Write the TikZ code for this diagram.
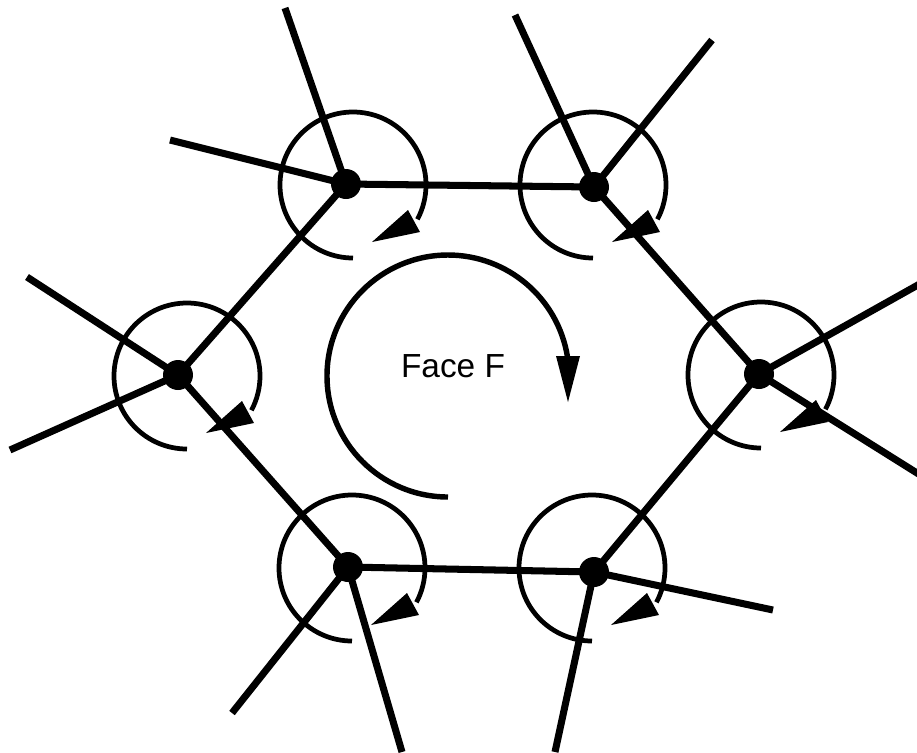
\documentclass[tikz,border=0pt]{standalone}
\usepackage{fontspec}
\setmainfont{Liberation Sans}

\begin{document}
\begin{tikzpicture}[x=0.02cm, y=-0.02cm,
    vdot/.style={circle, fill=black, inner sep=0pt, minimum size=0.6cm},
    rim/.style={line width=4pt},
    turn/.style={line width=2.7pt},
    faceturn/.style={line width=3.1pt},
    head/.style={fill=black}]
  % pixel grid of the original picture, y pointing down
  \useasboundingbox (0,0) rectangle (917,752);

  % --- vertices of face F ---
  \node[vdot] (v1) at (346,184) {};
  \node[vdot] (v2) at (594,187) {};
  \node[vdot] (v3) at (759,374) {};
  \node[vdot] (v6) at (594,572) {};
  \node[vdot] (v5) at (348,567) {};
  \node[vdot] (v4) at (178,375) {};

  % --- free ends of the outer edges ---
  \coordinate (e1a) at (285,8);   \coordinate (e1b) at (170,140);
  \coordinate (e2a) at (515,15);  \coordinate (e2b) at (712,40);
  \coordinate (e3a) at (925,281); \coordinate (e3b) at (925,478);
  \coordinate (e4a) at (27,277);  \coordinate (e4b) at (10,450);
  \coordinate (e5a) at (232,713); \coordinate (e5b) at (402,752);
  \coordinate (e6a) at (555,752); \coordinate (e6b) at (773,610);

  % --- boundary of the face ---
  \draw[rim] (v1.center) -- (v2.center) -- (v3.center) -- (v6.center)
    -- (v5.center) -- (v4.center) -- cycle;

  % --- other edges at each vertex ---
  \draw[rim] (v1.center) -- (e1a) (v1.center) -- (e1b);
  \draw[rim] (v2.center) -- (e2a) (v2.center) -- (e2b);
  \draw[rim] (v3.center) -- (e3a) (v3.center) -- (e3b);
  \draw[rim] (v4.center) -- (e4a) (v4.center) -- (e4b);
  \draw[rim] (v5.center) -- (e5a) (v5.center) -- (e5b);
  \draw[rim] (v6.center) -- (e6a) (v6.center) -- (e6b);

  % --- rotation at each vertex (circle centres sit a little off the dots) ---
  \foreach \cx/\cy in {353/185, 593/185, 761/375, 187/376, 352/568, 592/568} {
    \begin{scope}[shift={(\cx,\cy)}]
      \draw[turn] (90:73) arc[start angle=90, end angle=388, radius=73];
      \fill[head] (19,57) -- (55,25) -- (67,47) -- cycle;
    \end{scope}
  }

  % --- orientation of the face ---
  \draw[faceturn] (448,376) ++(90:121) arc[start angle=90, end angle=351, radius=121];
  \fill[head] (556,356) -- (580,356) -- (568,402) -- cycle;

  \node (face) at (453,366) {\fontsize{19}{22}\selectfont Face F};
\end{tikzpicture}
\end{document}
